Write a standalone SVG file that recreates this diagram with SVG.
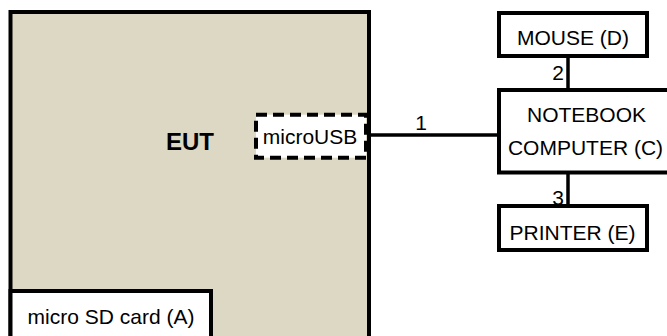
<svg xmlns="http://www.w3.org/2000/svg" width="667" height="336" viewBox="0 0 667 336">
<style>
.box{fill:#ffffff;stroke:#000000;stroke-width:4}
.t{font-family:"Liberation Sans",Arial,sans-serif;font-size:21px;fill:#000000}
.c{text-anchor:middle}
.ln{stroke:#000000;stroke-width:3.5;fill:none}
</style>
<rect width="667" height="336" fill="#ffffff"/>
<g id="eut">
<rect x="10.5" y="12" width="358.5" height="340" fill="#DCD8C3" stroke="#000000" stroke-width="4"/>
<text x="190" y="150" class="t c" style="font-size:24px;font-weight:bold">EUT</text>
</g>
<g id="microusb">
<rect x="256" y="114.7" width="110" height="43" fill="#ffffff" stroke="#000000" stroke-width="4" stroke-dasharray="11 6"/>
<text x="310" y="144.3" class="t c">microUSB</text>
</g>
<g id="sdcard">
<rect x="10.5" y="291" width="200.5" height="60" class="box"/>
<text x="111" y="324" class="t c">micro SD card (A)</text>
</g>
<g id="connectors">
<line x1="369" y1="135" x2="499" y2="135" class="ln"/>
<text x="421" y="130" class="t c">1</text>
<line x1="568" y1="56" x2="568" y2="90" class="ln"/>
<text x="564" y="80" class="t" text-anchor="end">2</text>
<line x1="568" y1="172" x2="568" y2="206" class="ln"/>
<text x="564" y="204.5" class="t" text-anchor="end">3</text>
</g>
<g id="mouse">
<rect x="499" y="13" width="148" height="43" class="box"/>
<text x="573" y="45" class="t c">MOUSE (D)</text>
</g>
<g id="notebook">
<rect x="499" y="90" width="180" height="82.5" class="box"/>
<text x="586.5" y="121.7" class="t c">NOTEBOOK</text>
<text x="585.5" y="155" class="t c">COMPUTER (C)</text>
</g>
<g id="printer">
<rect x="499" y="206" width="148" height="44" class="box"/>
<text x="572.5" y="240" class="t c">PRINTER (E)</text>
</g>
</svg>
